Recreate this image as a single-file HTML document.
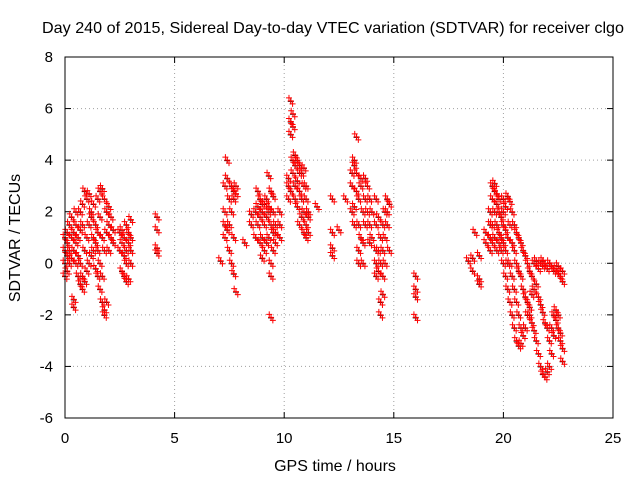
<!DOCTYPE html>
<html><head><meta charset="utf-8"><style>
body{margin:0;background:#fff;}
svg text{font-family:"Liberation Sans",sans-serif;font-size:15px;fill:#000;}
</style></head><body>
<svg id="chart" width="640" height="480">
<text x="333" y="33" text-anchor="middle" style="font-size:16px" textLength="582" lengthAdjust="spacingAndGlyphs">Day 240 of 2015, Sidereal Day-to-day VTEC variation (SDTVAR) for receiver clgo</text>
<text x="335" y="471" text-anchor="middle" style="font-size:16px">GPS time / hours</text>
<text transform="translate(20,238) rotate(-90)" text-anchor="middle" style="font-size:16px">SDTVAR / TECUs</text>
<g id="grid"></g><g id="marks"></g>
<rect x="65" y="57" width="548" height="361" fill="none" stroke="#000"/>
</svg>
<script>
const xTicks=[0,5,10,15,20,25];
const yTicks=[-6,-4,-2,0,2,4,6,8];
const groupX=[0,0.1,0.2,0.3,0.4,0.5,0.6,0.7,0.8,0.9,1.0,1.1,1.2,1.3,1.4,1.5,1.6,1.7,1.8,1.9,2.0,2.1,2.2,2.5,2.6,2.7,2.8,2.9,3.0,4.2,
7.1,7.3,7.4,7.5,7.6,7.7,7.8,8.2,8.5,8.7,8.8,8.9,9.0,9.1,9.2,9.3,9.4,9.5,9.6,9.8,10.2,10.3,10.4,10.5,10.6,10.7,10.8,10.9,11.0,11.1,11.5,
12.2,12.5,12.8,13.1,13.2,13.3,13.4,13.5,13.6,13.7,13.8,13.9,14.0,14.2,14.3,14.4,14.5,14.6,14.7,14.8,16.0,
18.4,18.6,18.7,18.9,19.2,19.4,19.5,19.6,19.7,19.8,19.9,20.0,20.1,20.2,20.3,20.4,20.5,20.6,20.7,20.8,20.9,21.0,21.1,21.2,21.3,21.4,21.5,21.6,21.7,21.8,21.9,22.0,22.1,22.2,22.3,22.4,22.5,22.6,22.7];
const groupY=[[-0.5,0,0.5,1],[-0.3,0.3,0.8,1.2],[0,0.5,1.5],[0.2,1,1.8],[-1.7,-1.4,0.5,1.2],[0,0.8,1.5,2],[-0.5,0.3,1],[-0.8,0,1.3,2],[-1,-0.5,1.5,2.3],[-0.7,0.5,2.8],[-0.3,1,2.5],[0,1.5,2.7],[0.3,1.8,2],[0.5,1,2.3],[-0.2,0.8,1.5],[-0.5,0.5,1.2,2.5],[-1,0,1.8,2.8],[-1.5,-0.5,1,2.9],[-2,-1.8,0.5,2.5],[-1.5,1.2,2],[0.5,1.5,2.2],[1,1.8],[0.8,1.3],[0.5,1.2],[0.8,1.3,-0.3],[-0.5,0.3,1],[-0.7,0,0.5,1.5],[-0.6,0.8,1.2],[0.5,1,0,1.7],[0.4,0.6,1.3,1.8],
[0.1],[1,1.5,2,3],[1.3,4,3.3],[0.5,1.5,2.5],[0,2,3],[-0.4,1,2.5,2.8],[-1.1,2.7,3],[0.8],[1.5,1.9],[1,2],[1.5,2.2,2.8],[0.8,1.8,2.5],[0.2,1,2,2.3],[0.5,1.5,2.3],[0.8,1.8,2.5],[1,2,3.4,2.2],[-0.5,0,1.5,2.8,-2.1],[0.5,1.2,2,2.6],[1.2,1.5,0.8],[1,1.5,2],[2.5,3,3.3],[5,5.5,6.3,2.8],[5.3,5.8,3.5,4],[3,2.5,3.8,4.2],[2.2,3.2,4],[1.5,2.8,3.5,3.8],[1.8,2.5,3.5],[1.2,2,3,3.7],[1,1.5,2.5,3],[1.2,1.8,2],[2.2],
[0.3,0.6,1.2,2.5],[1.3],[2.5],[2,3,3.5],[3.8,4,1.5,2.2],[3.5,4.9,2.8],[0,0.5,1.5,2.5],[1,3,3.3],[0,0.8,2],[1.5,2.5,3.3],[2,3],[0.8,1.5,2.5],[1,2],[-0.5,0,0.5,1.5,2.5],[-0.3,0.5,1.8],[-2,-1.5,0,1],[-1.2,-0.5,0.5,1.5],[0,1,2],[1.5,2.5,2],[0.5,2.3],[-2.1,-1.3,-1,-0.5],
[0.1],[-0.3,0.2],[1.2],[-0.6,-0.8,0.3],[0.8,1.2],[0.5,1,1.5,2],[0.8,1.5,2.5,3],[1,2,2.8,3.1],[0.5,1.5,2.3,2.7],[0.8,1.2,2,2.5],[0.5,1,1.8],[0,0.8,1.5,2,2.5],[-0.5,0.5,1.3,2.2],[-1,0,1,2.6],[-1.5,0,1.5,2.4],[-2,-0.5,0.8,2],[-2.5,-1,0.5,1.5],[-3,-1.5,0,1.2],[-3.2,-2,-0.3,1],[-3.1,-2.5,-0.5,0.8],[-2.8,-1,0.5],[-2.5,-1.3,0.3],[-2,-1.5,0],[-1.7,-2,-0.3],[-1.2,-2.3,-0.5],[-1,-2.6,0],[-0.8,-3,0.1],[-1.3,-3.5,-0.2],[-1.6,-4,0],[-1.9,-4.3,-0.1,0.1],[-2.3,-4.4,0],[-2.5,-4.2,-0.2],[-3,-4,0],[-2.5,-3.5,-0.1],[-2,-2.8,-0.3],[-1.8,-2.2,-0.2],[-2,-2.5,-0.1,-0.4],[-2.7,-3,-0.5],[-3.3,-3.8,-0.3,-0.7]];
const X0=65,X1=613,Y0=418,Y1=57;
const sx=v=>X0+(v-0)/(25-0)*(X1-X0);
const sy=v=>Y0-(v+6)/(14)*(Y0-Y1);
const NS='http://www.w3.org/2000/svg';
const grid=document.getElementById('grid'),marks=document.getElementById('marks'),svg=document.getElementById('chart');
function mk(t,a,p){const e=document.createElementNS(NS,t);for(const k in a)e.setAttribute(k,a[k]);(p||svg).appendChild(e);return e;}
xTicks.forEach(v=>{const x=sx(v);
 if(v>0&&v<25){const l=mk('line',{x1:x,x2:x,y1:Y1,y2:Y0,stroke:'#a0a0a0','stroke-dasharray':'1,3'},grid);}
 mk('line',{x1:x,x2:x,y1:Y0,y2:Y0-6,stroke:'#000'},grid);mk('line',{x1:x,x2:x,y1:Y1,y2:Y1+6,stroke:'#000'},grid);
 const t=mk('text',{x:x,y:443,'text-anchor':'middle'});t.textContent=v;
 
 });
yTicks.forEach(v=>{const y=sy(v);
 if(v>-6&&v<8){const l=mk('line',{x1:X0,x2:X1,y1:y,y2:y,stroke:'#a0a0a0','stroke-dasharray':'1,3'},grid);}
 mk('line',{x1:X0,x2:X0+6,y1:y,y2:y,stroke:'#000'},grid);mk('line',{x1:X1,x2:X1-6,y1:y,y2:y,stroke:'#000'},grid);
 const t=mk('text',{x:53,y:y+5,'text-anchor':'end'});t.textContent=v;
 
 });
function plus(x,y,c){const p=mk('path',{d:`M${x-3},${y}h6M${x},${y-3}v6`,stroke:c,'stroke-width':1,fill:'none'},marks);
 
 }
groupX.forEach((gx,i)=>groupY[i].forEach(v=>plus(sx(gx),sy(v)+0.5,'#000')));
groupX.forEach((gx,i)=>groupY[i].forEach(v=>{for(const d of [-1.5,0,1.5])plus(sx(gx)+d*1.2,sy(v)+d*2,'#f00');}));
</script>
</body></html>
